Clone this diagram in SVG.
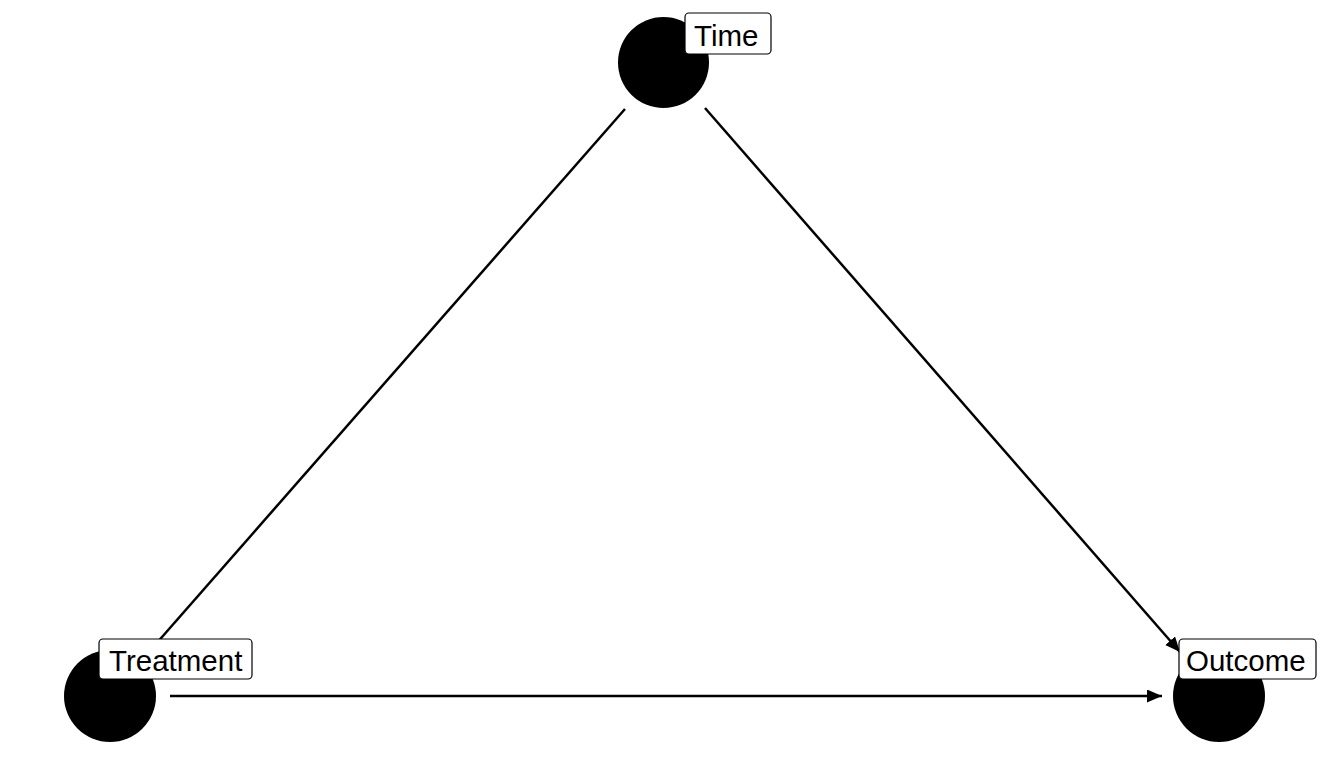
<svg xmlns="http://www.w3.org/2000/svg" width="1330" height="760" viewBox="0 0 1330 760">
<style>
.edge{stroke:#000;stroke-width:2.5;fill:none}
.node{fill:#000}
.lbl{fill:#fff;stroke:#000;stroke-width:1.2}
.txt{font-family:"Liberation Sans",Arial,sans-serif;font-size:29.5px;fill:#000}
</style>
<defs>
<marker id="arr" markerUnits="userSpaceOnUse" markerWidth="16" markerHeight="14" refX="15" refY="6.5" orient="auto">
<path d="M0,0 L15,6.5 L0,13 z" fill="#000"/>
</marker>
</defs>
<rect width="1330" height="760" fill="#fff"/>
<g id="connectors">
<line class="edge" x1="625" y1="109" x2="155" y2="645"/>
<line class="edge" x1="705" y1="108" x2="1180" y2="652" marker-end="url(#arr)"/>
<line class="edge" x1="170" y1="696" x2="1162" y2="696" marker-end="url(#arr)"/>
</g>
<g id="node-time">
<circle class="node" cx="663.5" cy="62.5" r="45.5"/>
<rect class="lbl" x="685" y="13" width="86" height="41" rx="4"/>
<text class="txt" x="694" y="46">Time</text>
</g>
<g id="node-treatment">
<circle class="node" cx="110" cy="696" r="46"/>
<rect class="lbl" x="99" y="639" width="153" height="40" rx="4"/>
<text class="txt" x="109" y="671">Treatment</text>
</g>
<g id="node-outcome">
<circle class="node" cx="1219" cy="696" r="46"/>
<rect class="lbl" x="1179" y="639" width="137" height="40" rx="4"/>
<text class="txt" x="1186" y="671">Outcome</text>
</g>
</svg>
